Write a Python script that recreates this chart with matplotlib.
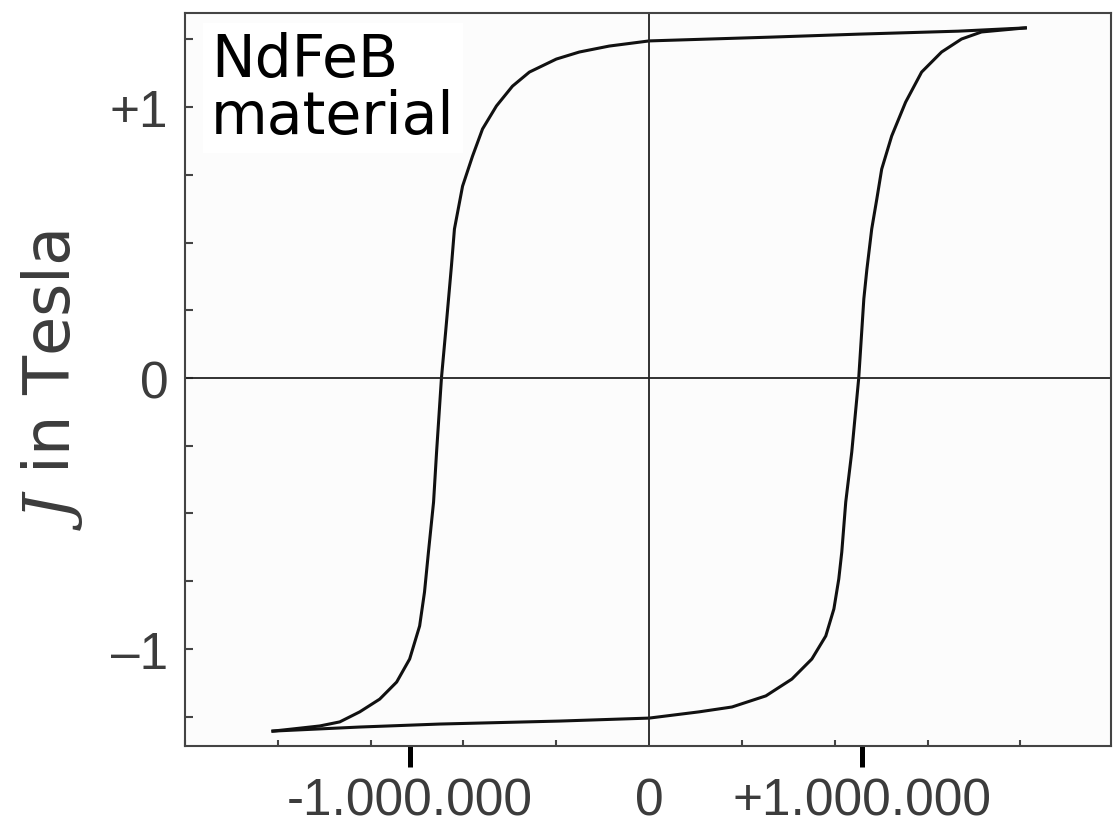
import numpy as np
import matplotlib.pyplot as plt
from matplotlib.ticker import MultipleLocator

# Hysteresis loop of NdFeB (H in kA/m, J in Tesla)
# upper branch, from +saturation down to -saturation
h_down = [1621, 1333, 903, 525, 0, -172, -301, -400, -516, -589, -658, -718, -761, -804, -839,
          -852, -877, -895, -916, -929, -951, -968, -989, -1032, -1088, -1161, -1247, -1333,
          -1419, -1535, -1621]
j_down = [1.292, 1.280, 1.269, 1.258, 1.244, 1.225, 1.203, 1.177, 1.129, 1.077, 1.004, 0.919, 0.819,
          0.708, 0.550, 0.413, 0.170, 0.0, -0.273, -0.458, -0.642, -0.790, -0.915, -1.037, -1.122,
          -1.185, -1.232, -1.269, -1.284, -1.295, -1.303]

# lower branch, from -saturation back up to +saturation
h_up = [-1621, -1247, -903, -387, 0, 215, 357, 503, 615, 701, 761, 796, 817, 830, 847, 873, 903,
        925, 938, 959, 981, 1002, 1045, 1105, 1174, 1260, 1346, 1432, 1621]
j_up = [-1.303, -1.288, -1.277, -1.266, -1.255, -1.232, -1.214, -1.173, -1.111, -1.037, -0.952,
        -0.852, -0.742, -0.642, -0.458, -0.273, 0.0, 0.292, 0.400, 0.550, 0.661, 0.771, 0.893, 1.018,
        1.129, 1.203, 1.251, 1.277, 1.292]

# tick labels (the hand-placed ticks in the picture sit a bit off the round values)
x_tick_pos = [-1032000, 0, 916000]
x_tick_labels = ['-1.000.000', '0', '+1.000.000']
y_tick_pos = [-1, 0, 1]
y_tick_labels = ['\u20131', '0', '+1']

plt.rcParams['mathtext.fontset'] = 'dejavuserif'

fig = plt.figure(figsize=(11.13, 8.29), dpi=100)
ax = fig.add_axes([185 / 1113, 1 - 747 / 829, 926 / 1113, 733 / 829])
ax.set_facecolor('#fcfcfc')

ax.plot(np.array(h_down) * 1e3, j_down, color='#111111', lw=2.2, solid_joinstyle='round')
ax.plot(np.array(h_up) * 1e3, j_up, color='#111111', lw=2.2, solid_joinstyle='round')

ax.axhline(0, color='#222222', lw=1.3)
ax.axvline(0, color='#222222', lw=1.3)

ax.set_xlim(-2.0e6, 1.99e6)
ax.set_ylim(-1.358, 1.347)

for s in ax.spines.values():
    s.set_color('#444444')
    s.set_linewidth(1.5)

# x axis: thick outward ticks with labels, small inward ticks every 400 kA/m
ax.set_xticks(x_tick_pos)
ax.set_xticklabels(x_tick_labels)
ax.xaxis.set_minor_locator(MultipleLocator(400000))
ax.tick_params(axis='x', which='major', direction='out', length=15, width=3.6, color='black',
               labelsize=37, labelcolor='#3c3c3c', pad=7)
ax.tick_params(axis='x', which='minor', direction='in', length=4, width=1.5, color='#444444')
ax.xaxis.get_major_ticks()[1].tick1line.set_visible(False)
for lab in ax.get_xticklabels():
    lab.set_family('Liberation Sans')

# y axis: small inward ticks every 0.25 T
ax.set_yticks(y_tick_pos)
ax.set_yticklabels(y_tick_labels)
ax.yaxis.set_minor_locator(MultipleLocator(0.25))
ax.tick_params(axis='y', which='both', direction='in', length=6, width=1.5, color='#444444',
               labelsize=37, labelcolor='#3c3c3c', pad=12)
for lab in ax.get_yticklabels():
    lab.set_family('Liberation Sans')

ax.text(0.028, 0.975, 'NdFeB\nmaterial', transform=ax.transAxes, ha='left', va='top',
        fontsize=42, color='black', linespacing=1.0,
        bbox=dict(facecolor='white', edgecolor='none', pad=6))

fig.text(52 / 1113, 1 - 380 / 829, r'$J$ in Tesla', rotation=90, ha='center', va='center',
         fontsize=46, color='#3c3c3c')

fig.savefig('out.png', dpi=100)
